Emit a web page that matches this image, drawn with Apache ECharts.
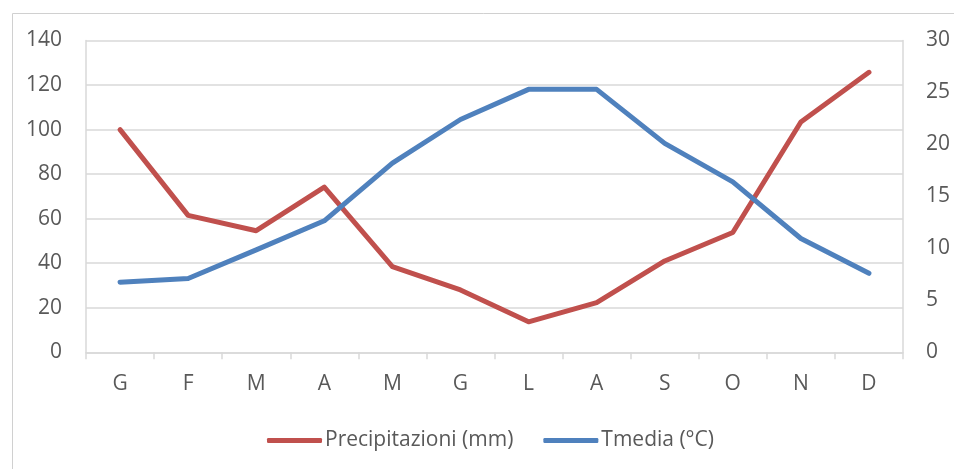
<!DOCTYPE html>
<html>
<head>
<meta charset="utf-8">
<script src="https://cdn.jsdelivr.net/npm/echarts@6/dist/echarts.min.js"></script>
<style>html,body{margin:0;padding:0;background:#fff}#c{width:954px;height:469px}</style>
</head>
<body>
<div id="c"></div>
<script>
const months = ['G','F','M','A','M','G','L','A','S','O','N','D'];
const precipitazioni = [100, 61.5, 54.6, 74.2, 38.5, 28, 13.7, 22.3, 41, 53.8, 103.4, 125.7];
const tmedia = [6.75, 7.1, 9.85, 12.65, 18.2, 22.4, 25.3, 25.3, 20.1, 16.4, 10.95, 7.6];
const seriesNames = ['Precipitazioni (mm)', 'Tmedia (°C)'];

const FONT = 'Open Sans';
const TXT = '#595959';
const GRID = '#d9d9d9';

const chart = echarts.init(document.getElementById('c'), null, {renderer: 'canvas'});
chart.setOption({
  animation: false,
  backgroundColor: '#fff',
  textStyle: {fontFamily: FONT},
  graphic: [{
    type: 'rect', left: 10, top: 11,
    shape: {width: 1000, height: 500},
    style: {fill: 'none', stroke: '#d0d0d0', lineWidth: 1}
  }],
  grid: {left: 86, right: 51, top: 40.5, height: 311.8},
  legend: {
    left: 262, top: 425,
    itemWidth: 55, itemHeight: 5, itemGap: 30,
    icon: 'roundRect',
    textStyle: {color: TXT, fontSize: 21, fontFamily: FONT, padding: [0, 0, 0, -2]},
    data: seriesNames
  },
  xAxis: {
    type: 'category', data: months, boundaryGap: true,
    axisLine: {lineStyle: {color: GRID, width: 1.5}},
    axisTick: {show: true, length: 7, lineStyle: {color: GRID, width: 1.5}},
    axisLabel: {color: TXT, fontSize: 21, fontFamily: FONT, margin: 21},
    splitLine: {show: false}
  },
  yAxis: [{
    type: 'value', min: 0, max: 140, interval: 20,
    axisLine: {show: true, lineStyle: {color: GRID, width: 1.5}},
    axisTick: {show: false},
    axisLabel: {color: TXT, fontSize: 21, fontFamily: FONT, margin: 24},
    splitLine: {lineStyle: {color: GRID, width: 1.5}}
  }, {
    type: 'value', min: 0, max: 30, interval: 5,
    axisLine: {show: true, lineStyle: {color: GRID, width: 1.5}},
    axisTick: {show: false},
    axisLabel: {color: TXT, fontSize: 21, fontFamily: FONT, margin: 23},
    splitLine: {show: false}
  }],
  series: [{
    name: seriesNames[0], type: 'line', yAxisIndex: 0, data: precipitazioni,
    symbol: 'none', color: '#C0504D',
    lineStyle: {width: 5, color: '#C0504D', cap: 'round', join: 'round'}
  }, {
    name: seriesNames[1], type: 'line', yAxisIndex: 1, data: tmedia,
    symbol: 'none', color: '#4F81BD',
    lineStyle: {width: 5, color: '#4F81BD', cap: 'round', join: 'round'}
  }]
});
</script>
</body>
</html>
